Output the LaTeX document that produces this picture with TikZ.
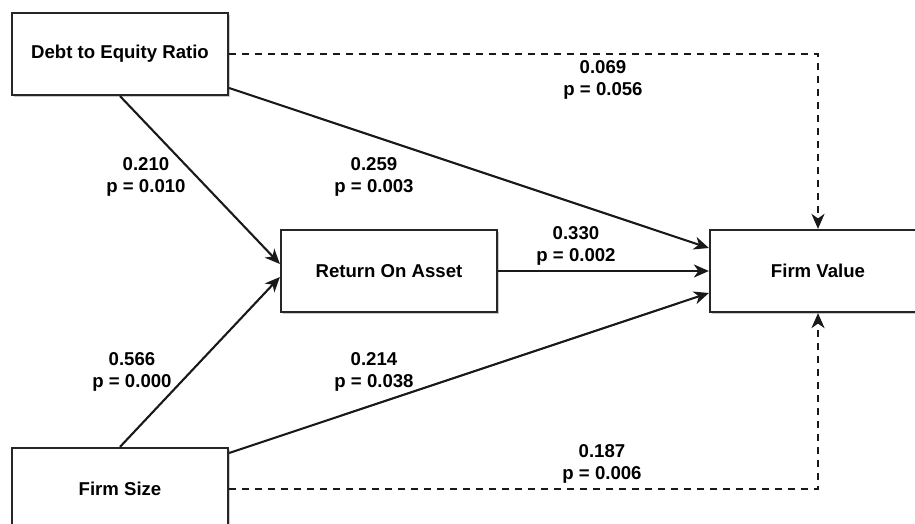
\documentclass[tikz,border=0pt]{standalone}
\usepackage{fontspec}
\setmainfont{Liberation Sans}
\usetikzlibrary{arrows.meta,calc,shadows}
\tikzset{
  varbox/.style={draw=black!85, line width=2.2pt, fill=white,
    minimum width=216pt, minimum height=82pt, inner sep=0pt,
    font=\bfseries\fontsize{18.6}{22}\selectfont,
    drop shadow={shadow xshift=1.6pt, shadow yshift=-1.6pt, opacity=0.35, fill=black!60}},
  coef/.style={align=center, inner sep=1pt, font=\bfseries\fontsize{18.6}{22}\selectfont},
  path/.style={draw=black!90, line width=2.1pt,
    -{Stealth[length=15pt,width=13pt,inset=4.5pt]}},
  direct/.style={path, dash pattern=on 7pt off 6pt}
}
\begin{document}
\begin{tikzpicture}[x=1pt,y=-1pt]
  \useasboundingbox (0,0) rectangle (915,524);
  \clip (0,0) rectangle (915,524);

  % constructs
  \node[varbox] (der) at (120,54)  {Debt to Equity Ratio};
  \node[varbox] (roa) at (389,271) {Return On Asset};
  \node[varbox] (fv)  at (818,271) {Firm Value};
  \node[varbox] (fs)  at (120,489) {Firm Size};

  % direct effects
  \draw[direct] (der.east) -| (fv.north);
  \draw[direct] (fs.east) -| (fv.south);

  % paths through the mediator and remaining effects
  \draw[path] (der.south) -- ($(roa.west)+(0,-7)$);
  \draw[path] (fs.north) -- ($(roa.west)+(0,6)$);
  \draw[path] ($(der.east)+(0,34)$) -- ($(fv.west)+(0,-23)$);
  \draw[path] ($(fs.east)+(0,-36)$) -- ($(fv.west)+(0,22)$);
  \draw[path] (roa.east) -- (fv.west);

  % path coefficients
  \node[coef] (c1) at (603,80)  {0.069\\p = 0.056};
  \node[coef] (c2) at (146,177) {0.210\\p = 0.010};
  \node[coef] (c3) at (374,177) {0.259\\p = 0.003};
  \node[coef] (c4) at (576,246) {0.330\\p = 0.002};
  \node[coef] (c5) at (132,372) {0.566\\p = 0.000};
  \node[coef] (c6) at (374,372) {0.214\\p = 0.038};
  \node[coef] (c7) at (602,464) {0.187\\p = 0.006};
\end{tikzpicture}
\end{document}
